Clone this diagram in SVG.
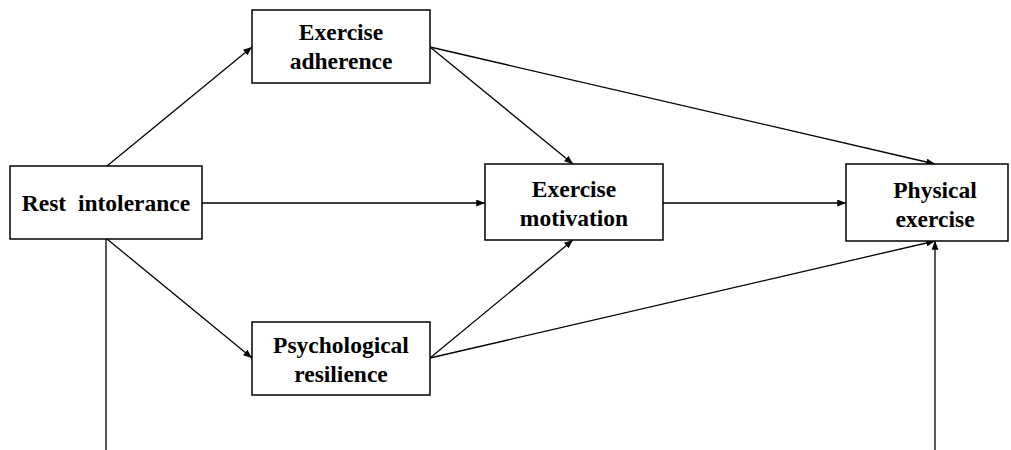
<svg xmlns="http://www.w3.org/2000/svg" width="1011" height="450" viewBox="0 0 1011 450">
<style>
.box{fill:#fff;stroke:#000;stroke-width:1.5}
.t{font-family:"Liberation Serif","Times New Roman",serif;font-weight:bold;font-size:23.5px;text-anchor:middle;fill:#000}
.c{stroke:#000;stroke-width:1.3;fill:none}
.a{marker-end:url(#ah)}
</style>
<defs>
<marker id="ah" viewBox="0 0 10 8" refX="10" refY="4" markerWidth="9" markerHeight="7" markerUnits="userSpaceOnUse" orient="auto">
<path d="M0,0 L10,4 L0,8 Z" fill="#000"/>
</marker>
</defs>
<rect width="1011" height="450" fill="#fff"/>
<g id="connectors">
<line class="c a" x1="107" y1="166" x2="252" y2="47"/>
<line class="c a" x1="202" y1="203" x2="485" y2="203"/>
<line class="c a" x1="107" y1="239" x2="252" y2="358"/>
<line class="c" x1="106" y1="239" x2="106" y2="450"/>
<line class="c a" x1="430" y1="47" x2="573" y2="164"/>
<line class="c a" x1="430" y1="47" x2="935" y2="164"/>
<line class="c a" x1="663" y1="203" x2="846" y2="203"/>
<line class="c a" x1="430" y1="358" x2="573" y2="240"/>
<line class="c a" x1="430" y1="358" x2="935" y2="241"/>
<line class="c a" x1="935" y1="450" x2="935" y2="241"/>
</g>
<g id="rest">
<rect class="box" x="10" y="166" width="192" height="73"/>
<text class="t" x="106" y="211" xml:space="preserve">Rest  intolerance</text>
</g>
<g id="adherence">
<rect class="box" x="252" y="10" width="178" height="73"/>
<text class="t" x="341" y="40">Exercise</text>
<text class="t" x="341" y="69">adherence</text>
</g>
<g id="motivation">
<rect class="box" x="485" y="164" width="178" height="76"/>
<text class="t" x="574" y="197">Exercise</text>
<text class="t" x="574" y="226">motivation</text>
</g>
<g id="physical">
<rect class="box" x="846" y="164" width="162" height="77"/>
<text class="t" x="935" y="198">Physical</text>
<text class="t" x="935" y="227">exercise</text>
</g>
<g id="resilience">
<rect class="box" x="252" y="322" width="178" height="73"/>
<text class="t" x="341" y="353">Psychological</text>
<text class="t" x="341" y="382">resilience</text>
</g>
</svg>
